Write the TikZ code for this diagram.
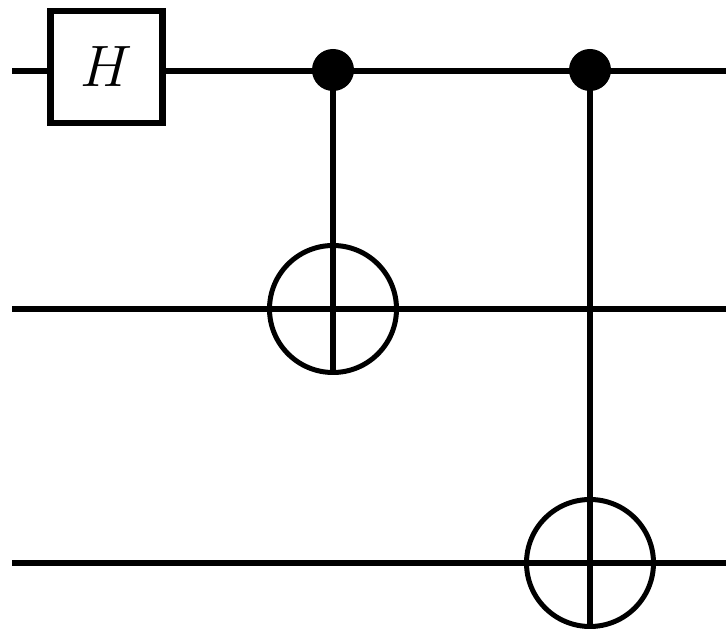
\documentclass[tikz,border=0pt]{standalone}
\usepackage{graphicx}
\usepackage{tikz}

\begin{document}
\begin{tikzpicture}[x=1pt,y=1pt,
		wire/.style={black,line width=6pt},
		gate/.style={draw,line width=6.5pt,minimum size=112pt,inner sep=0pt,fill=white,
			font=\Huge},
		ctrl/.style={circle,fill=black,minimum size=42pt,inner sep=0pt},
		targ/.style={circle,draw,line width=5pt,minimum size=127pt,inner sep=0pt}]
		\useasboundingbox (0,0) rectangle (726,637);
		% wire ends
		\coordinate (qa) at (12,565.5);  \coordinate (qa') at (726,565.5);
		\coordinate (qb) at (12,328);  \coordinate (qb') at (726,328);
		\coordinate (qc) at (12,74);   \coordinate (qc') at (726,74);
		\draw[wire] (qa)--(qa');
		\draw[wire] (qb)--(qb');
		\draw[wire] (qc)--(qc');
		
		\node[gate] (h) at (106.5,570) {\scalebox{2.35}{$H$}};
		
		\node[ctrl] (ca) at (333,567) {};
		\node[targ] (ta) at (333,328) {};
		\draw[wire] (ca.center)--(ta.south);
		
		\node[ctrl] (cb) at (590,567) {};
		\node[targ] (tb) at (590,74) {};
		\draw[wire] (cb.center)--(tb.south);
	\end{tikzpicture}
\end{document}
